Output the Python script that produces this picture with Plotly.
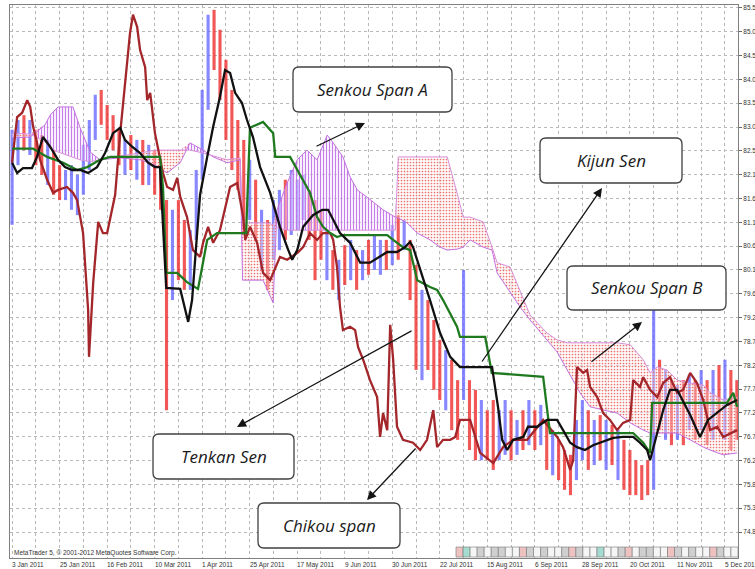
import numpy as np
import plotly.graph_objects as go

# ---------------- data ----------------
date_labels = ["3 Jan 2011", "25 Jan 2011", "16 Feb 2011", "10 Mar 2011", "1 Apr 2011",
               "25 Apr 2011", "17 May 2011", "9 Jun 2011", "30 Jun 2011", "22 Jul 2011",
               "15 Aug 2011", "6 Sep 2011", "28 Sep 2011", "20 Oct 2011", "11 Nov 2011",
               "5 Dec 2011"]
date_pos = [0, 16, 32, 48, 64, 80, 96, 112, 128, 144, 160, 176, 192, 208, 224, 240]

price_labels = ["74.8", "75.3", "75.8", "76.2", "76.7", "77.2", "77.7", "78.2", "78.7", "79.2",
                "79.6", "80.1", "80.6", "81.1", "81.6", "82.1", "82.5", "83.0", "83.5", "84.0",
                "84.5", "85.0", "85.5"]

candle_idx = list(range(0, 245, 2))
candle_dir = ("uududduddu" "uuuuuddddu" "dududddudd" "uuuudddddd" "ududuuduuu"
              "dddudududu" "duudududdu" "dddudduddu" "dduudududu" "duddduudud"
              "ududddddud" "ududududud" "udd")
candle_high = [83.09, 83.29, 83.39, 83.29, 83.09, 82.98, 82.88, 82.67, 82.36, 82.26,
               82.36, 82.16, 82.78, 83.29, 83.81, 83.91, 83.60, 83.39, 83.09, 82.88,
               82.98, 82.88, 82.88, 82.78, 82.67, 82.47, 81.64, 81.44, 81.64, 81.23,
               81.02, 82.26, 83.91, 85.46, 85.56, 85.15, 84.53, 83.91, 83.29, 82.88,
               82.47, 82.06, 81.44, 81.23, 81.64, 81.85, 82.06, 82.26, 82.06, 82.16,
               81.85, 81.64, 81.44, 81.02, 80.61, 80.41, 80.71, 80.82, 80.61, 80.61,
               80.82, 80.92, 80.82, 80.82, 81.13, 81.33, 81.23, 80.82, 80.30, 79.79,
               79.58, 79.17, 78.76, 78.55, 78.35, 77.93, 80.20, 77.93, 77.73, 77.52,
               77.31, 77.52, 77.31, 77.52, 77.31, 77.11, 77.31, 77.52, 77.31, 77.42,
               77.11, 76.90, 76.70, 76.49, 76.39, 77.11, 77.52, 77.31, 77.11, 77.21,
               77.11, 77.01, 76.90, 76.70, 76.49, 76.28, 76.18, 76.28, 79.38, 78.35,
               78.14, 77.93, 77.83, 77.93, 78.04, 77.93, 78.14, 77.93, 78.14, 78.24,
               78.35, 78.14, 77.93]
candle_low = [81.13, 82.36, 82.67, 82.57, 82.36, 82.16, 81.95, 81.75, 81.64, 81.64,
              81.44, 81.33, 81.75, 82.26, 82.88, 83.19, 82.88, 82.67, 82.36, 82.16,
              82.26, 82.06, 81.95, 81.95, 81.75, 81.44, 77.31, 79.58, 79.99, 79.79,
              79.79, 80.82, 82.06, 83.50, 84.32, 83.70, 82.88, 82.26, 81.85, 81.02,
              81.23, 80.82, 80.20, 79.79, 80.41, 80.61, 80.82, 80.92, 81.02, 81.23,
              80.82, 79.99, 80.41, 79.99, 79.79, 79.58, 79.89, 79.99, 79.79, 79.99,
              80.10, 80.20, 80.10, 80.20, 80.30, 80.41, 80.61, 79.58, 78.14, 77.93,
              78.14, 77.73, 77.52, 77.31, 76.90, 76.70, 77.52, 76.49, 76.28, 76.28,
              76.28, 76.08, 76.28, 76.39, 76.28, 76.39, 76.49, 76.59, 76.49, 76.59,
              76.08, 75.97, 75.87, 75.67, 75.56, 75.87, 76.28, 76.08, 76.18, 76.28,
              76.08, 76.18, 75.87, 75.67, 75.56, 75.56, 75.46, 75.56, 75.67, 76.90,
              76.70, 76.59, 76.70, 76.59, 76.90, 76.70, 76.90, 76.59, 76.70, 76.90,
              76.70, 76.49, 76.70]

tenkan_x = [0, 1.7, 3.7, 6.7, 8.4, 10.4, 12.8, 15.5, 17.8, 20.2, 22.9, 25.6, 28.6, 31.3, 34.0,
            36.4, 38.0, 40.4, 43.1, 45.8, 48.1, 49.8, 51.9, 56.6, 59.3, 60.6, 62.3, 63.3, 65.7,
            67.7, 70.0, 71.7, 73.4, 75.1, 77.4, 79.1, 81.1, 83.5, 86.9, 90.2, 92.6, 94.3, 96.0,
            98.0, 101.3, 104.4, 106.4, 108.1, 110.4, 113.8, 117.2, 120.5, 123.9, 126.3, 129.6,
            132.3, 134.0, 135.0, 140.7, 144.1, 147.5, 150.8, 161.6, 163.6, 165.0, 166.7, 168.7,
            172.1, 173.7, 176.8, 180.1, 183.5, 185.5, 187.9, 190.2, 192.9, 195.6, 199.0, 202.4,
            205.7, 209.1, 211.4, 213.8, 214.8, 216.5, 219.2, 221.5, 223.9, 228.3, 231.6, 234.3,
            237.4, 240.7, 244.1]
tenkan_y = [82.41, 82.20, 82.30, 82.30, 82.53, 82.94, 82.74, 82.47, 82.32, 82.26, 82.26, 82.20,
            82.32, 82.61, 83.02, 83.13, 82.88, 82.74, 82.61, 82.41, 82.32, 82.32, 79.83, 79.81,
            79.13, 79.58, 80.96, 81.75, 82.53, 83.15, 83.77, 84.32, 84.26, 83.85, 83.64, 83.29,
            82.94, 82.32, 81.79, 81.09, 80.67, 80.41, 80.61, 81.09, 81.33, 81.44, 81.44, 81.23,
            80.96, 80.76, 80.35, 80.35, 80.47, 80.57, 80.57, 80.67, 80.78, 80.67, 79.58, 78.90,
            78.41, 78.20, 78.20, 77.38, 76.70, 76.49, 76.70, 76.76, 76.97, 76.97, 77.11, 77.11,
            76.90, 76.64, 76.55, 76.49, 76.59, 76.66, 76.74, 76.76, 76.76, 76.64, 76.49, 76.28,
            76.70, 77.31, 77.73, 77.73, 77.21, 76.76, 77.11, 77.26, 77.42, 77.52]

kijun_x = [0, 7.1, 11.8, 17.2, 21.9, 25.3, 29.6, 33.0, 49.8, 50.8, 51.9, 55.6, 58.9, 62.6, 64.0,
           65.7, 69.0, 78.8, 80.1, 84.5, 87.9, 88.6, 93.6, 100.3, 102.7, 104.7, 107.1, 109.4,
           111.4, 126.3, 128.3, 131.6, 134.0, 136.4, 140.7, 143.1, 145.1, 149.8, 150.8, 159.3,
           161.5, 178.8, 181.1, 187.9, 209.1, 212.5, 214.8, 215.5, 240.7, 242.8, 244.1]
kijun_y = [82.70, 82.70, 82.53, 82.41, 82.26, 82.32, 82.47, 82.53, 82.53, 81.91, 80.14, 80.14,
           79.95, 79.81, 80.26, 80.82, 80.96, 80.96, 83.13, 83.25, 83.02, 82.53, 82.53, 81.79,
           81.29, 81.09, 80.96, 80.88, 80.92, 80.92, 80.82, 80.67, 80.61, 79.99, 79.85, 79.79,
           79.58, 79.03, 78.82, 78.82, 78.08, 78.00, 76.84, 76.84, 76.84, 76.64, 76.43, 77.46,
           77.46, 77.67, 77.38]

chikou_x = [0, 1.7, 3.4, 5.1, 6.1, 7.1, 8.4, 9.4, 11.8, 13.8,
            15.5, 18.5, 20.5, 21.9, 23.9, 25.6, 25.9, 27.3, 29.0, 30.6,
            32.0, 34.7, 36.4, 38.0, 39.7, 40.7, 42.1, 43.1, 44.8, 45.5,
            46.5, 48.1, 49.8, 50.8, 52.2, 54.2, 55.6, 56.6, 58.9, 60.9,
            63.3, 64.3, 66.0, 67.7, 70.0, 73.4, 75.8, 77.8, 78.5, 80.1,
            82.5, 84.5, 86.9, 87.9, 90.2, 92.6, 96.0, 98.0, 100.3, 102.7,
            104.7, 107.1, 108.1, 109.4, 110.4, 111.4, 113.8, 115.5, 116.5, 118.2,
            120.5, 122.9, 123.9, 124.9, 126.3, 127.3, 128.3, 129.6, 131.6, 135.0,
            137.4, 139.7, 141.8, 143.1, 145.1, 147.5, 149.2, 150.8, 154.2, 157.6,
            162.0, 165.3, 168.7, 173.4, 176.8, 178.8, 183.5, 185.5, 187.9, 188.9,
            190.2, 192.3, 193.6, 194.6, 197.0, 199.0, 201.3, 203.7, 205.7, 208.1,
            209.1, 211.4, 212.5, 214.8, 217.2, 219.2, 221.5, 223.9, 225.9, 228.3,
            230.6, 232.7, 235.0, 237.4, 239.4, 241.8, 244.1]
chikou_y = [82.41, 83.35, 83.44, 83.70, 83.56, 83.15, 82.82, 82.47, 82.06, 81.79,
            81.85, 81.91, 81.79, 81.64, 80.96, 79.38, 78.41, 79.93, 81.19, 80.96,
            80.96, 81.75, 83.02, 83.97, 85.08, 85.46, 85.21, 84.73, 84.38, 83.70,
            83.85, 83.02, 82.53, 82.20, 81.91, 81.85, 82.10, 81.71, 81.29, 80.61,
            80.47, 80.76, 81.09, 80.76, 81.02, 81.91, 81.99, 81.29, 80.82, 81.09,
            80.76, 80.14, 79.99, 80.14, 80.47, 80.41, 80.55, 80.67, 80.96, 80.82,
            80.96, 80.96, 80.82, 80.26, 79.44, 78.96, 79.03, 78.96, 78.61, 78.35,
            77.93, 77.58, 76.76, 77.25, 76.90, 79.07, 78.35, 76.97, 76.70, 76.64,
            76.49, 76.70, 77.31, 76.55, 76.70, 76.70, 76.76, 77.11, 77.11, 76.43,
            76.22, 76.55, 76.70, 76.70, 76.97, 77.11, 76.76, 76.55, 76.08, 76.28,
            78.20, 78.08, 78.14, 77.79, 77.58, 77.25, 77.11, 76.90, 77.05, 77.11,
            77.93, 77.79, 77.99, 77.73, 77.58, 77.87, 77.99, 77.67, 77.73, 78.08,
            77.87, 77.52, 76.90, 76.97, 76.76, 76.84, 76.90]

span_x = [0, 6.1, 11.1, 12.8, 15.5, 20.5, 22.9, 26.3, 29.6, 36.4,
          43.1, 48.1, 52.2, 56.6, 59.9, 64.3, 67.7, 72.4, 76.8, 77.6,
          84.5, 85.9, 87.9, 89.2, 92.6, 96.0, 99.3, 102.7, 106.1, 108.1,
          111.4, 113.8, 116.2, 119.5, 124.9, 129.0, 130.0, 133.0, 136.4, 140.7,
          144.1, 146.5, 149.8, 151.9, 154.2, 158.6, 161.6, 163.3, 167.7, 171.0,
          174.4, 180.1, 183.5, 186.9, 191.2, 194.6, 199.0, 203.7, 208.1, 212.5,
          214.8, 217.2, 220.5, 223.9, 228.3, 232.7, 235.0, 239.4, 244.1]
senkou_a = [82.92, 82.94, 83.19, 83.39, 83.56, 83.56, 83.13, 82.63, 82.47, 82.51,
            82.47, 82.36, 82.20, 82.41, 82.82, 82.67, 82.53, 82.41, 82.47, 79.99,
            79.99, 79.79, 79.52, 81.44, 81.99, 82.47, 82.67, 82.47, 82.98, 82.82,
            82.53, 82.12, 81.85, 81.70, 81.44, 81.29, 81.27, 81.17, 80.96, 80.82,
            80.67, 80.61, 80.63, 80.67, 80.82, 80.67, 80.61, 80.14, 79.75, 79.44,
            79.17, 78.76, 78.51, 78.14, 77.67, 77.38, 77.31, 77.25, 77.05, 76.90,
            76.84, 76.84, 76.84, 76.84, 76.70, 76.55, 76.49, 76.39, 76.43]
senkou_b = [83.02, 83.00, 82.84, 82.71, 82.63, 82.53, 82.47, 82.43, 82.47, 82.55,
            82.61, 82.67, 82.67, 82.67, 82.67, 82.61, 82.55, 82.47, 82.51, 81.17,
            81.17, 81.17, 81.13, 81.07, 81.02, 81.02, 81.02, 81.02, 81.02, 81.02,
            81.02, 81.02, 81.02, 81.02, 81.02, 81.02, 82.53, 82.53, 82.53, 82.53,
            82.53, 82.53, 81.79, 81.29, 81.29, 81.19, 80.67, 80.35, 80.26, 79.79,
            79.27, 78.90, 78.76, 78.70, 78.70, 78.70, 78.70, 78.70, 78.66, 78.35,
            78.08, 78.20, 78.14, 77.93, 77.87, 77.83, 77.67, 77.52, 77.58]

# ---------------- layout helpers ----------------
W, H = 755, 569
ML, MR, MT, MB = 10, 17, 5, 11
PW = W - ML - MR
PH = H - MT - MB


def pxx(x):
    return (x - ML) / PW


def pxy(y):
    return (H - MB - y) / PH


def rrect(x0, y0, x1, y1, r=6):
    X0, X1, Y0, Y1 = pxx(x0), pxx(x1), pxy(y0), pxy(y1)
    rx, ry = r / PW, r / PH
    return (f"M {X0+rx},{Y0} L {X1-rx},{Y0} Q {X1},{Y0} {X1},{Y0-ry} "
            f"L {X1},{Y1+ry} Q {X1},{Y1} {X1-rx},{Y1} L {X0+rx},{Y1} "
            f"Q {X0},{Y1} {X0},{Y1+ry} L {X0},{Y0-ry} Q {X0},{Y0} {X0+rx},{Y0} Z")


fig = go.Figure()

# ---------------- cloud ----------------
a_arr = np.array(senkou_a)
b_arr = np.array(senkou_b)
top = np.maximum(a_arr, b_arr)

fig.add_trace(go.Scatter(x=span_x, y=senkou_b, mode="lines", line=dict(width=0),
                         hoverinfo="skip", showlegend=False))
fig.add_trace(go.Scatter(x=span_x, y=top, mode="lines", line=dict(width=0), fill="tonexty",
                         fillcolor="rgba(240,215,252,0.45)",
                         fillpattern=dict(shape="|", fgcolor="#c070e8", bgcolor="rgba(244,222,252,0.45)",
                                          size=3, solidity=0.3),
                         hoverinfo="skip", showlegend=False))
fig.add_trace(go.Scatter(x=span_x, y=senkou_a, mode="lines", line=dict(width=0),
                         hoverinfo="skip", showlegend=False))
fig.add_trace(go.Scatter(x=span_x, y=top, mode="lines", line=dict(width=0), fill="tonexty",
                         fillcolor="rgba(255,232,232,0.4)",
                         fillpattern=dict(shape=".", fgcolor="#ec7070", bgcolor="rgba(255,242,242,0.4)",
                                          size=3, solidity=0.25),
                         hoverinfo="skip", showlegend=False))
fig.add_trace(go.Scatter(x=span_x, y=senkou_a, mode="lines", line=dict(color="#c470e0", width=1),
                         hoverinfo="skip", showlegend=False))
fig.add_trace(go.Scatter(x=span_x, y=senkou_b, mode="lines", line=dict(color="#d890dc", width=1),
                         hoverinfo="skip", showlegend=False))

# ---------------- candles ----------------
for d, col in (("u", "rgba(105,105,255,0.8)"), ("d", "rgba(238,45,45,0.8)")):
    xs = [candle_idx[i] for i in range(len(candle_idx)) if candle_dir[i] == d]
    hs = np.array([candle_high[i] for i in range(len(candle_idx)) if candle_dir[i] == d])
    ls = np.array([candle_low[i] for i in range(len(candle_idx)) if candle_dir[i] == d])
    fig.add_trace(go.Bar(x=xs, y=hs - ls, base=ls, width=1.05,
                         marker=dict(color=col, line=dict(width=0)),
                         hoverinfo="skip", showlegend=False))

# ---------------- lines ----------------
fig.add_trace(go.Scatter(x=chikou_x, y=chikou_y, mode="lines",
                         line=dict(color="#a3262b", width=2.3), showlegend=False))
fig.add_trace(go.Scatter(x=kijun_x, y=kijun_y, mode="lines",
                         line=dict(color="#1f7a1f", width=2.3), showlegend=False))
fig.add_trace(go.Scatter(x=tenkan_x, y=tenkan_y, mode="lines",
                         line=dict(color="#111111", width=2.3), showlegend=False))

# ---------------- annotation boxes ----------------
boxes = [((293, 67, 452, 112), "Senkou Span A"),
         ((540, 138, 682, 183), "Kijun Sen"),
         ((567, 266, 726, 310), "Senkou Span B"),
         ((153, 434, 294, 479), "Tenkan Sen"),
         ((258, 503, 400, 548), "Chikou span")]
shapes = []
annotations = []
for (x0, y0, x1, y1), txt in boxes:
    shapes.append(dict(type="path", xref="paper", yref="paper", path=rrect(x0, y0, x1, y1),
                       fillcolor="white", line=dict(color="#404040", width=1.3), layer="above"))
    annotations.append(dict(x=pxx((x0 + x1) / 2), y=pxy((y0 + y1) / 2), xref="paper", yref="paper",
                            xanchor="center", yanchor="middle",
                            text=f"<i>{txt}</i>", showarrow=False,
                            font=dict(family="Open Sans", size=17, color="#1a1a1a")))

arrows = [((315, 147), (365, 123)),
          ((481, 363), (602, 188)),
          ((590, 363), (642, 322)),
          ((413, 330), (237, 427)),
          ((417, 447), (367, 500))]
for (tx, ty), (hx, hy) in arrows:
    annotations.append(dict(x=pxx(hx), y=pxy(hy), xref="paper", yref="paper",
                            ax=tx - hx, ay=ty - hy, axref="pixel", ayref="pixel",
                            text="", showarrow=True, arrowhead=2, arrowsize=1.4,
                            arrowwidth=1.3, arrowcolor="#151515"))

# date labels (left-aligned at tick like MetaTrader)
for pos, lab in zip(date_pos, date_labels):
    annotations.append(dict(x=pos, y=pxy(559), xref="x", yref="paper", text=lab,
                            showarrow=False, xanchor="left", yanchor="top", xshift=-2,
                            font=dict(family="Liberation Sans", size=6.5, color="#333333")))

annotations.append(dict(x=pxx(12), y=pxy(553), xref="paper", yref="paper",
                        text="MetaTrader 5, © 2001-2012 MetaQuotes Software Corp.",
                        showarrow=False, xanchor="left", yanchor="middle",
                        font=dict(family="Liberation Sans", size=6.5, color="#333333")))

# trading-session strip at bottom right
strip_pattern = "ptwgwggwwpgwgwwgpgwwtwwgpwggwwpgwgwwpgww"
cell_cols = {"p": "#efc2c2", "t": "#a6dccf", "g": "#cfcfcf", "w": "#f5f5f5"}
cell_w = (738 - 456) / len(strip_pattern)
for i, c in enumerate(strip_pattern):
    shapes.append(dict(type="rect", xref="paper", yref="paper",
                       x0=pxx(456 + i * cell_w), x1=pxx(456 + (i + 1) * cell_w),
                       y0=pxy(557), y1=pxy(547), fillcolor=cell_cols[c],
                       line=dict(color="#777777", width=0.6), layer="above"))

fig.update_layout(
    width=W, height=H,
    margin=dict(l=ML, r=MR, t=MT, b=MB),
    paper_bgcolor="white", plot_bgcolor="white",
    barmode="overlay", showlegend=False,
    template="none",
    font=dict(family="Liberation Sans", size=7, color="#333333"),
    shapes=shapes, annotations=annotations,
    xaxis=dict(range=[-0.7, 244.4], tickvals=list(range(0, 245, 8)), showticklabels=False,
               showgrid=True, gridcolor="#b8b8b8", griddash="dot", gridwidth=1,
               showline=True, mirror=True, linecolor="#808080", linewidth=1,
               zeroline=False, ticks="", automargin=False),
    yaxis=dict(range=[74.265, 85.66], side="right",
               tickvals=list(np.linspace(74.8, 85.6, len(price_labels))), ticktext=price_labels,
               ticks="outside", ticklen=3, tickcolor="#666666",
               tickfont=dict(family="Liberation Sans", size=6.5, color="#333333"),
               showgrid=True, gridcolor="#b8b8b8", griddash="dot", gridwidth=1,
               showline=True, mirror=True, linecolor="#808080", linewidth=1,
               zeroline=False, automargin=False),
)

fig.write_html("out.html", config={"displayModeBar": False},
               post_script="document.body.style.margin='0px';document.body.style.padding='0px';")
